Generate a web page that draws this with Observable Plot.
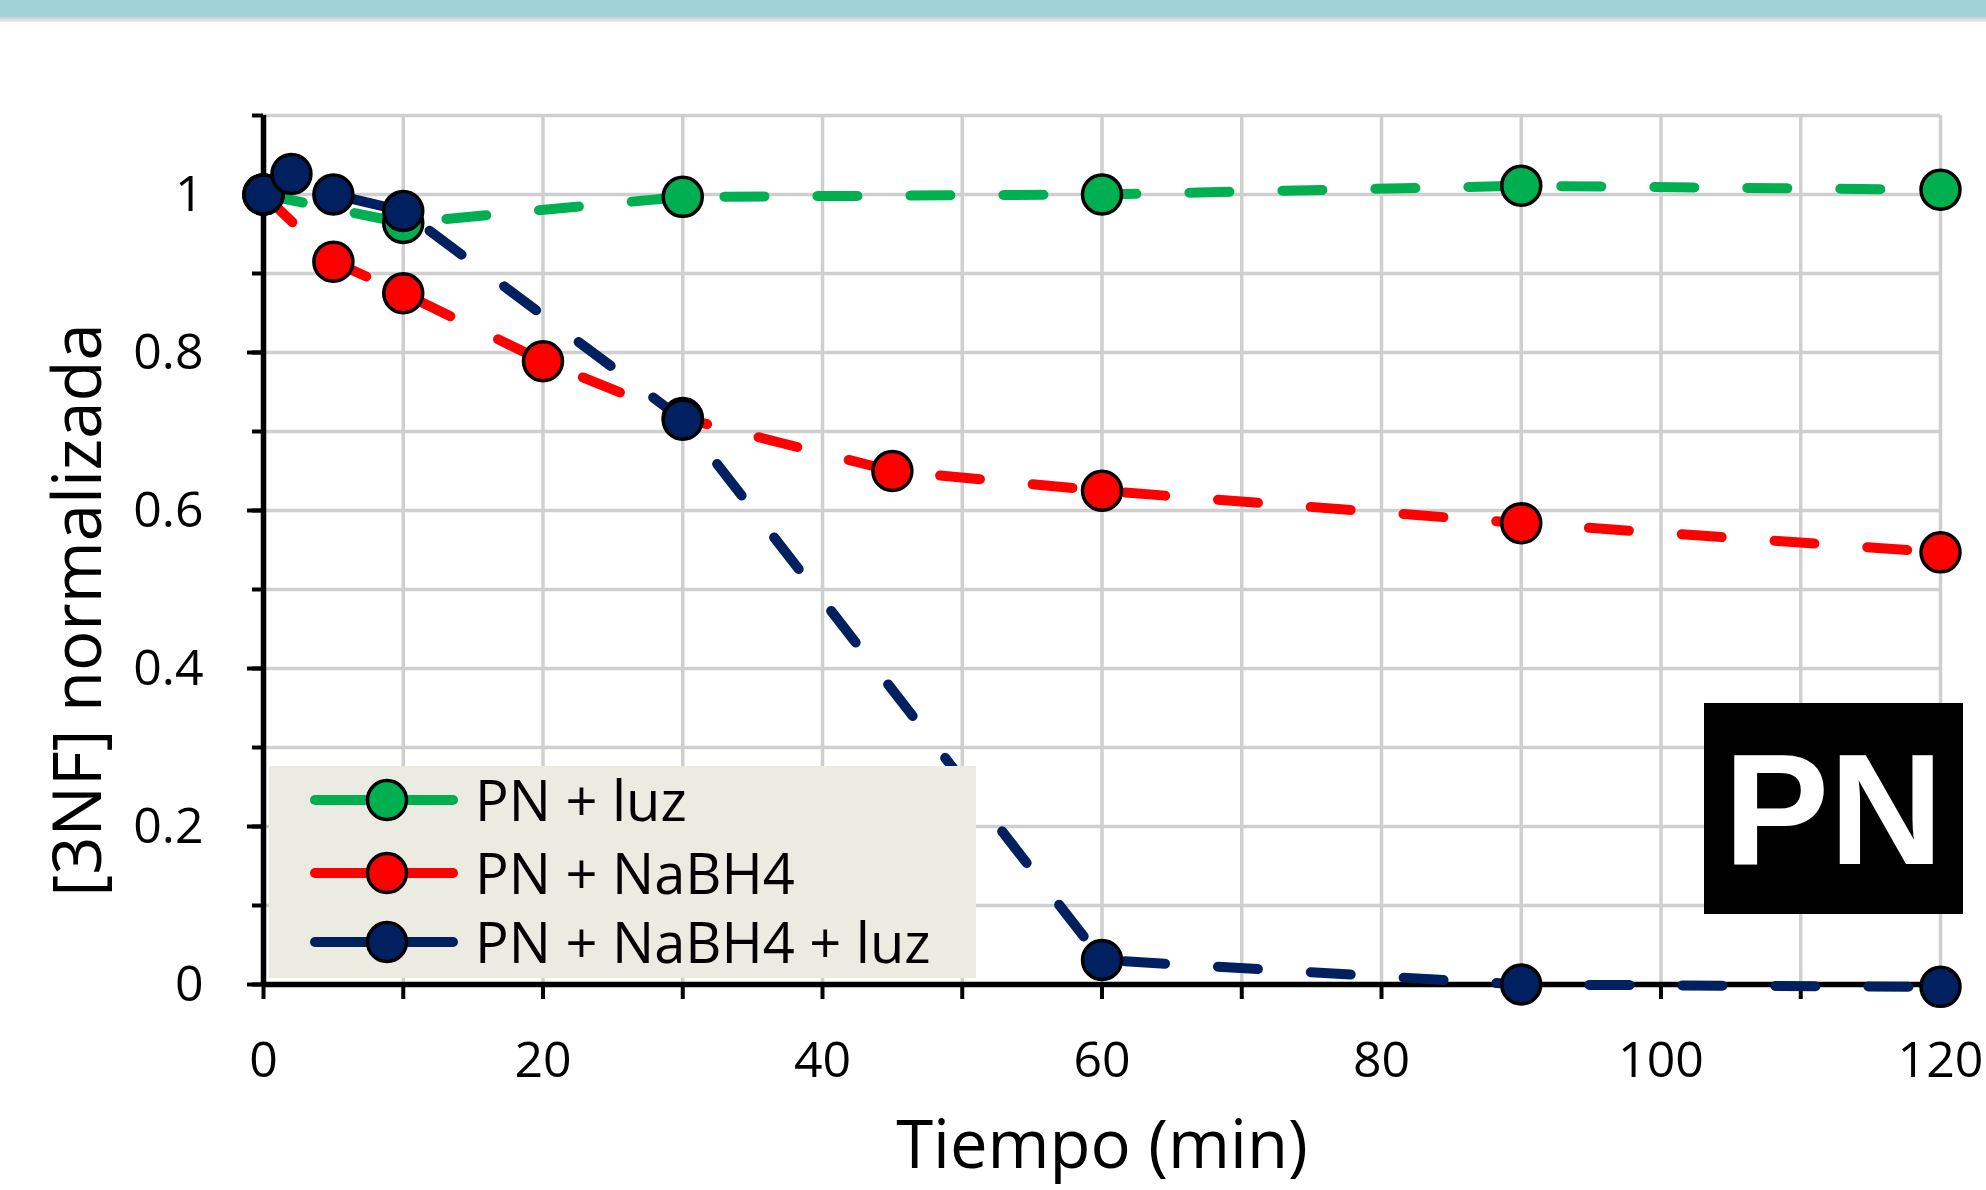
<!DOCTYPE html>
<html><head><meta charset="utf-8">
<script src="https://cdn.jsdelivr.net/npm/d3@7"></script>
<script src="https://cdn.jsdelivr.net/npm/@observablehq/plot@0.6"></script>
<style>
html,body{margin:0;padding:0;background:#fff;}
body{width:1986px;height:1190px;overflow:hidden;position:relative;font-family:"Open Sans",sans-serif;}
#band{height:17px;background:#9fd3d8;}
#band2{height:5px;background:linear-gradient(#cbcbcb,#ededed);}
#chart{position:absolute;left:0;top:22px;}
#legend{position:absolute;left:269px;top:766px;width:707px;height:212px;background:#ecebe1;}
.row{position:absolute;left:0;height:50px;width:700px;}
.row svg{position:absolute;left:36px;top:0;}
.row span{position:absolute;left:206px;top:50%;transform:translateY(-52%);font-size:56px;line-height:1;color:#000;white-space:nowrap;}
#tag{position:absolute;left:1704px;top:703px;width:259px;height:211px;background:#000;color:#fff;
  font-family:"Liberation Sans",Arial,sans-serif;font-weight:bold;font-size:158px;display:flex;align-items:center;justify-content:center;line-height:1;}
</style></head>
<body>
<div id="band"></div><div id="band2"></div>
<div id="chart"></div>
<div id="legend"></div>
<div id="tag">PN</div>
<script>
// ---- data ----
const seriesNames = ["PN + luz", "PN + NaBH4", "PN + NaBH4 + luz"];
const seriesColors = ["#00b050", "#ff0000", "#002060"];
const timeLuz = [0, 10, 30, 60, 90, 120];
const valLuz = [1.0, 0.964, 0.997, 1.0, 1.011, 1.006];
const timeNaBH4 = [0, 5, 10, 20, 30, 45, 60, 90, 120];
const valNaBH4 = [1.0, 0.915, 0.875, 0.789, 0.717, 0.65, 0.625, 0.584, 0.547];
const timeNaBH4Luz = [0, 2, 5, 10, 30, 60, 90, 120];
const valNaBH4Luz = [1.0, 1.026, 1.0, 0.979, 0.715, 0.031, 0.0, -0.003];
const xMajorTicks = [0, 20, 40, 60, 80, 100, 120];
const xTickLabels = ["0", "20", "40", "60", "80", "100", "120"];
const xMinorTicks = [0, 10, 20, 30, 40, 50, 60, 70, 80, 90, 100, 110, 120];
const yMajorTicks = [0, 0.2, 0.4, 0.6, 0.8, 1.0];
const yTickLabels = ["0", "0.2", "0.4", "0.6", "0.8", "1"];
const yMinorTicks = [0, 0.1, 0.2, 0.3, 0.4, 0.5, 0.6, 0.7, 0.8, 0.9, 1.0, 1.1];
const xTitle = "Tiempo (min)";
const yTitle = "[3NF] normalizada";

const series = [
  {name: seriesNames[0], color: seriesColors[0], t: timeLuz, v: valLuz},
  {name: seriesNames[1], color: seriesColors[1], t: timeNaBH4, v: valNaBH4},
  {name: seriesNames[2], color: seriesColors[2], t: timeNaBH4Luz, v: valNaBH4Luz}
].map(s => ({...s, data: s.t.map((t, i) => ({t, v: s.v[i]}))}));

const seriesMarks = series.flatMap(s => [
  Plot.line(s.data, {x: "t", y: "v", stroke: s.color, strokeWidth: 10, strokeDasharray: "40,53", strokeLinecap: "round"}),
  Plot.dot(s.data, {x: "t", y: "v", r: 19.5, fill: s.color, stroke: "#000", strokeWidth: 3.5})
]);

const W = 1986, H = 1168;
const chart = Plot.plot({
  width: W, height: H,
  marginLeft: 263, marginRight: 46, marginTop: 93, marginBottom: 206,
  x: {domain: [0, 120], label: null},
  y: {domain: [0, 1.1], label: null},
  style: {fontFamily: "'Open Sans', sans-serif", fontSize: "50px", color: "#000", background: "transparent", overflow: "visible"},
  marks: [
    Plot.gridX({ticks: xMinorTicks.slice(1), stroke: "#cfcfcf", strokeOpacity: 1, strokeWidth: 3.5}),
    Plot.gridY({ticks: yMinorTicks.slice(1), stroke: "#cfcfcf", strokeOpacity: 1, strokeWidth: 3.5}),
    Plot.axisX({ticks: xMinorTicks, tickSize: 15, strokeWidth: 4, tickFormat: () => "", label: null}),
    Plot.axisX({ticks: xMajorTicks, tickSize: 0, tickPadding: 57, fontSize: 50, tickFormat: (d, i) => xTickLabels[i], label: null}),
    Plot.axisY({ticks: yMinorTicks, tickSize: 11, strokeWidth: 4, tickFormat: () => "", label: null}),
    Plot.axisY({ticks: yMajorTicks, tickSize: 16, strokeWidth: 4, tickPadding: 44, fontSize: 50, tickFormat: (d, i) => yTickLabels[i], label: null}),
    Plot.ruleX([0], {stroke: "#000", strokeWidth: 5.5}),
    Plot.ruleY([0], {stroke: "#000", strokeWidth: 5.5}),
    ...seriesMarks,
    Plot.text([xTitle], {frameAnchor: "bottom", text: d => d, dy: 162, textAnchor: "middle", lineAnchor: "middle", fontSize: 67, fill: "#000"}),
    Plot.text([yTitle], {frameAnchor: "left", text: d => d, dx: -184, dy: 60, rotate: -90, textAnchor: "middle", lineAnchor: "middle", fontSize: 67, fill: "#000"})
  ]
});
document.getElementById("chart").appendChild(chart);

// legend
const legend = document.getElementById("legend");
const rowCenters = [34, 107, 176];
series.forEach((s, i) => {
  const row = document.createElement("div");
  row.className = "row";
  row.style.top = (rowCenters[i] - 25) + "px";
  row.innerHTML = `<svg width="160" height="50"><line x1="10" y1="25" x2="148" y2="25" stroke="${s.color}" stroke-width="10" stroke-linecap="round"/><circle cx="82" cy="25" r="19.5" fill="${s.color}" stroke="#000" stroke-width="3.5"/></svg><span>${s.name}</span>`;
  legend.appendChild(row);
});
</script>
</body></html>
